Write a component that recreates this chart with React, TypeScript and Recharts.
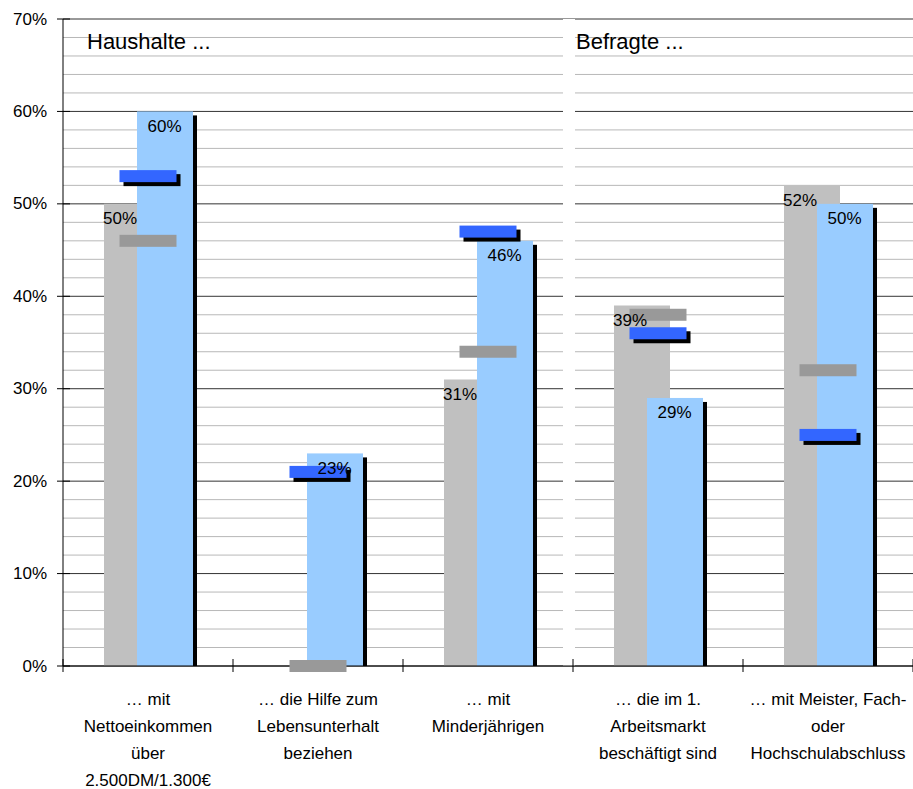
import React from 'react';
import { ComposedChart, Bar, Line, XAxis, YAxis, CartesianGrid } from 'recharts';

// categories and values (percent)
const categories = [
  '… mit\nNettoeinkommen\nüber\n2.500DM/1.300€',
  '… die Hilfe zum\nLebensunterhalt\nbeziehen',
  '… mit\nMinderjährigen',
  '… die im 1.\nArbeitsmarkt\nbeschäftigt sind',
  '… mit Meister, Fach-\noder\nHochschulabschluss',
];
const grayBars = [50, 0, 31, 39, 52];
const blueBars = [60, 23, 46, 29, 50];
const grayMarks = [46, 0, 34, 38, 32];
const blueMarks = [53, 21, 47, 36, 25];
const yTicks = [0, 10, 20, 30, 40, 50, 60, 70];
const minorTicks = Array.from({ length: 36 }, (_, i) => i * 2).filter((v) => v % 10 !== 0);
const groupTitles = ['Haushalte ...', 'Befragte ...'];

const W = 913;
const H = 789;
const TOP = 19;
const Y_W = 63;
const X_H = 123;
const PLOT_W = W - Y_W;
const BAND = PLOT_W / categories.length;
const BAR_SIZE = 56;
const BAR_GAP = -23;
const GROUP_W = BAR_SIZE * 2 + BAR_GAP;
const GRAY_DX = -GROUP_W / 2 + (BAR_SIZE + BAR_GAP) / 2;
const BLUE_DX = GROUP_W / 2 - BAR_SIZE / 2;
const MARK_W = 57;
const MARK_H = 12;
const FONT = "'Liberation Sans', Arial, sans-serif";

const data = categories.map((cat, i) => ({
  cat,
  gray: grayBars[i],
  blue: blueBars[i],
  grayMark: grayMarks[i],
  blueMark: blueMarks[i],
}));

const ShadowBar = (props: any) => {
  const { x, y, width, height, fill } = props;
  if (!height) return null;
  return (
    <g>
      <rect x={x + 4} y={y + 4} width={width} height={Math.max(height - 4, 0)} fill="#000" />
      <rect x={x} y={y} width={width} height={height} fill={fill} />
    </g>
  );
};

const MarkDot = ({ cx, cy, fill, shadow }: any) => {
  if (cx == null || cy == null) return null;
  return (
    <g>
      {shadow && (
        <rect x={cx - MARK_W / 2 + 4} y={cy - MARK_H / 2 + 4} width={MARK_W} height={MARK_H} fill="#000" />
      )}
      <rect x={cx - MARK_W / 2} y={cy - MARK_H / 2} width={MARK_W} height={MARK_H} fill={fill} />
    </g>
  );
};

const ValueLabel = (props: any) => {
  const { x, y, value, dx } = props;
  if (!value) return null;
  return (
    <text x={x + dx} y={y + 15} textAnchor="middle" dominantBaseline="central" fontSize={17} fill="#000">
      {value}%
    </text>
  );
};

// y tick: label plus a tick line crossing the axis
const PercentTick = (props: any) => {
  const { x, y, payload } = props;
  const axisX = x + 16;
  return (
    <g>
      <line x1={axisX - 6} x2={axisX + 7} y1={y} y2={y} stroke="#000" />
      <text x={x} y={y} textAnchor="end" dominantBaseline="central" fontSize={17} fill="#000">
        {payload.value}%
      </text>
    </g>
  );
};

const CategoryTick = (props: any) => {
  const { x, y, payload, index } = props;
  const lines = String(payload.value).split('\n');
  const axisY = y - 8;
  const half = BAND / 2;
  return (
    <g>
      <line x1={x - half} x2={x - half} y1={axisY - 7} y2={axisY + 6} stroke="#000" />
      {index === categories.length - 1 && (
        <line x1={x + half} x2={x + half} y1={axisY - 7} y2={axisY + 6} stroke="#000" />
      )}
      <text x={x} y={axisY + 39} textAnchor="middle" fontSize={17} fill="#000">
        {lines.map((l, i) => (
          <tspan key={i} x={x} dy={i === 0 ? 0 : 27}>
            {l}
          </tspan>
        ))}
      </text>
    </g>
  );
};

export default function App() {
  return (
    <div style={{ position: 'absolute', left: 0, top: 0, width: W, height: H, fontFamily: FONT, background: '#fff' }}>
      <ComposedChart
        width={W}
        height={H}
        data={data}
        barGap={BAR_GAP}
        margin={{ top: TOP, right: 0, left: 0, bottom: 0 }}
      >
        <CartesianGrid horizontalValues={minorTicks} vertical={false} stroke="#b8b8b8" />
        <CartesianGrid horizontalValues={yTicks} vertical={false} stroke="#333" />
        <CartesianGrid
          horizontal={false}
          stroke="#fff"
          strokeWidth={12}
          verticalCoordinatesGenerator={({ offset }: any) => [offset.left + (offset.width * 3) / categories.length - 4]}
        />
        <XAxis
          dataKey="cat"
          height={X_H}
          interval={0}
          axisLine={{ stroke: '#000' }}
          tickLine={false}
          tick={<CategoryTick />}
        />
        <YAxis
          width={Y_W}
          domain={[0, 70]}
          ticks={yTicks}
          interval={0}
          tickMargin={10}
          axisLine={{ stroke: '#000' }}
          tickLine={false}
          tick={<PercentTick />}
        />
        <Bar dataKey="gray" fill="#C0C0C0" barSize={BAR_SIZE} isAnimationActive={false} />
        <Bar dataKey="blue" fill="#99CCFF" barSize={BAR_SIZE} shape={ShadowBar} isAnimationActive={false} />
        <Line
          dataKey="grayMark"
          stroke="none"
          activeDot={false}
          isAnimationActive={false}
          dot={(p: any) => <MarkDot key={`g${p.index}`} cx={p.cx} cy={p.cy} fill="#999999" />}
        />
        <Line
          dataKey="blueMark"
          stroke="none"
          activeDot={false}
          isAnimationActive={false}
          dot={(p: any) => <MarkDot key={`b${p.index}`} cx={p.cx} cy={p.cy} fill="#3366FF" shadow />}
        />
        <Line
          dataKey="gray"
          stroke="none"
          dot={false}
          activeDot={false}
          isAnimationActive={false}
          label={<ValueLabel dx={GRAY_DX} />}
        />
        <Line
          dataKey="blue"
          stroke="none"
          dot={false}
          activeDot={false}
          isAnimationActive={false}
          label={<ValueLabel dx={BLUE_DX} />}
        />
      </ComposedChart>
      <svg width={W} height={H} style={{ position: 'absolute', left: 0, top: 0, pointerEvents: 'none' }}>
        <text x={87} y={49} fontSize={22} fill="#000">
          {groupTitles[0]}
        </text>
        <text x={576} y={49} fontSize={22} fill="#000">
          {groupTitles[1]}
        </text>
      </svg>
    </div>
  );
}
